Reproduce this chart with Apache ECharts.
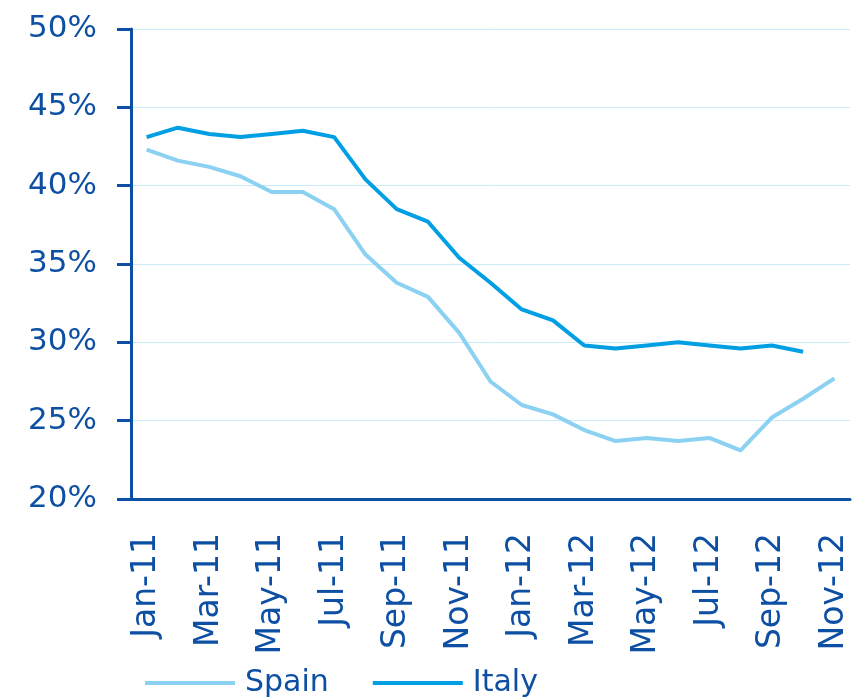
<!DOCTYPE html>
<html>
<head>
<meta charset="utf-8">
<script src="https://cdn.jsdelivr.net/npm/echarts@6/dist/echarts.min.js"></script>
<style>
  html, body { margin: 0; padding: 0; background: #fff; }
  #chart { width: 858px; height: 698px; }
</style>
</head>
<body>
<div id="chart"></div>
<script>
const months = [
  "Jan-11", "Feb-11", "Mar-11", "Apr-11", "May-11", "Jun-11", "Jul-11", "Aug-11",
  "Sep-11", "Oct-11", "Nov-11", "Dec-11", "Jan-12", "Feb-12", "Mar-12", "Apr-12",
  "May-12", "Jun-12", "Jul-12", "Aug-12", "Sep-12", "Oct-12", "Nov-12"
];
const spain = [
  42.3, 41.6, 41.2, 40.6, 39.6, 39.6, 38.5, 35.6, 33.8, 32.9, 30.6, 27.5,
  26.0, 25.4, 24.4, 23.7, 23.9, 23.7, 23.9, 23.1, 25.2, 26.4, 27.7
];
const italy = [
  43.1, 43.7, 43.3, 43.1, 43.3, 43.5, 43.1, 40.4, 38.5, 37.7, 35.4, 33.8,
  32.1, 31.4, 29.8, 29.6, 29.8, 30.0, 29.8, 29.6, 29.8, 29.4
];

const axisBlue = "#0d4fa3";
const font = "DejaVu Sans";

const chart = echarts.init(document.getElementById("chart"));
chart.setOption({
  animation: false,
  grid: { left: 131, top: 29, right: 8, bottom: 199 },
  legend: {
    left: 140,
    top: 663,
    icon: "rect",
    itemWidth: 90,
    itemHeight: 4,
    itemGap: 44,
    textStyle: { color: axisBlue, fontSize: 30, fontFamily: font, padding: [0, 0, 0, 5] },
    data: ["Spain", "Italy"]
  },
  xAxis: {
    type: "category",
    data: months,
    boundaryGap: true,
    axisLine: { lineStyle: { color: axisBlue, width: 3 } },
    axisTick: { interval: 1, length: 14, lineStyle: { color: axisBlue, width: 3 } },
    axisLabel: {
      interval: 1,
      rotate: 90,
      margin: 34,
      color: axisBlue,
      fontSize: 33,
      fontFamily: font,
      padding: [0, 0, 8, 0]
    },
    splitLine: { show: false }
  },
  yAxis: {
    type: "value",
    min: 20,
    max: 50,
    interval: 5,
    axisLine: { show: true, lineStyle: { color: axisBlue, width: 3 } },
    axisTick: { show: true, length: 14, lineStyle: { color: axisBlue, width: 3 } },
    axisLabel: {
      formatter: "{value}%",
      margin: 34,
      color: axisBlue,
      fontSize: 31,
      fontFamily: font,
      padding: [0, 0, 10, 0]
    },
    splitLine: { lineStyle: { color: "#c9eaf8", width: 1 } }
  },
  series: [
    {
      name: "Spain",
      type: "line",
      data: spain,
      symbol: "none",
      color: "#8bd1f2",
      lineStyle: { width: 4 }
    },
    {
      name: "Italy",
      type: "line",
      data: italy,
      symbol: "none",
      color: "#009fe3",
      lineStyle: { width: 4 }
    }
  ]
});
</script>
</body>
</html>
